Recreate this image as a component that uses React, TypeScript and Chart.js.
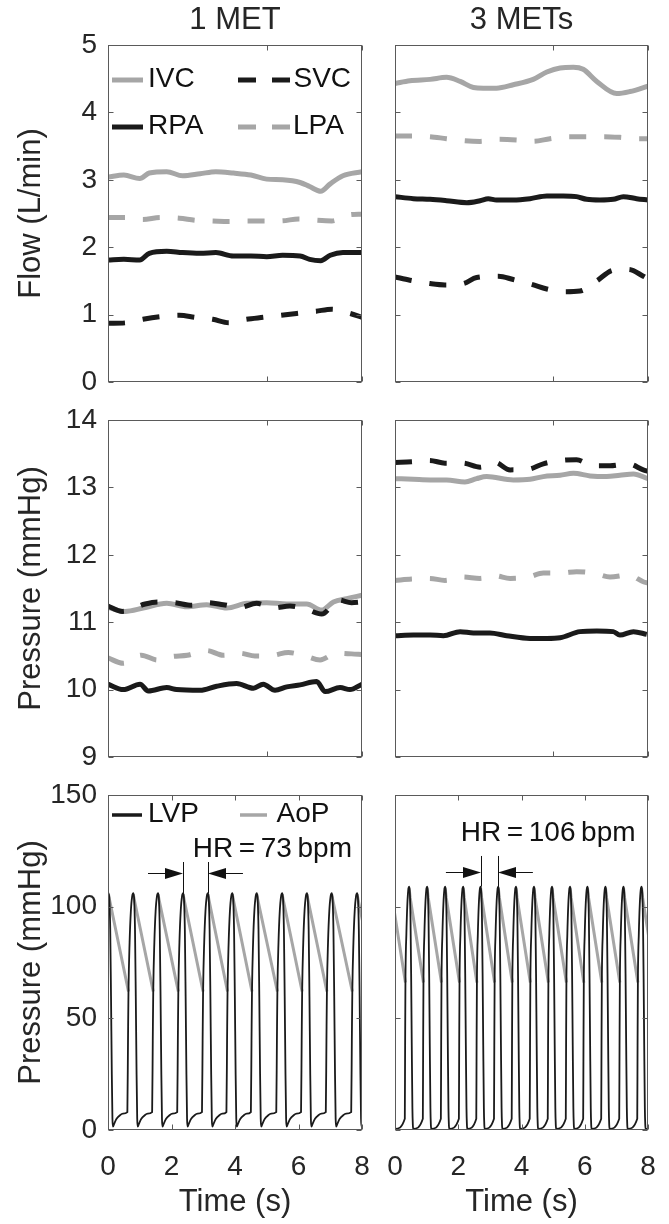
import React, { useEffect, useRef } from 'react';
import { Chart, registerables } from 'chart.js';

Chart.register(...registerables);

const FONT = "'Liberation Sans', Arial, Helvetica, sans-serif";
const GRAY = '#a6a6a6';
const BLACK = '#1a1a1a';
const TEXT = '#262626';
const INK = '#111111';
const FRAME = '#5a5a5a';

Chart.defaults.font.family = FONT;
Chart.defaults.color = TEXT;

// ---------- labels & ticks ----------
const COLUMN_TITLES = ['1 MET', '3 METs'];
const ROW_Y_TITLES = ['Flow (L/min)', 'Pressure (mmHg)', 'Pressure (mmHg)'];
const X_TITLE = 'Time (s)';
const X_TICKS_UPPER = [0, 5, 8];
const X_TICKS_BOTTOM = [0, 2, 4, 6, 8];
const FLOW_TICKS = [0, 1, 2, 3, 4, 5];
const VENOUS_P_TICKS = [9, 10, 11, 12, 13, 14];
const LV_P_TICKS = [0, 50, 100, 150];
const HR_LABELS = ['HR\u2009=\u200973\u2009bpm', 'HR\u2009=\u2009106\u2009bpm'];

// ---------- Flow, 1 MET ----------
const IVC_F1_T = [0, 0.5, 1.0, 1.3, 1.85, 2.35, 2.9, 3.4, 3.95, 4.5, 5.0, 5.5, 6.05, 6.35, 6.7, 7.0, 7.4, 8.0];
const IVC_F1 = [3.04, 3.07, 3.02, 3.10, 3.12, 3.06, 3.09, 3.12, 3.10, 3.07, 3.01, 3.00, 2.96, 2.90, 2.83, 2.94, 3.06, 3.12];
const RPA_F1_T = [0, 0.5, 1.0, 1.3, 1.85, 2.35, 2.9, 3.4, 3.95, 4.5, 5.0, 5.5, 6.05, 6.35, 6.7, 7.0, 7.4, 8.0];
const RPA_F1 = [1.81, 1.82, 1.81, 1.91, 1.94, 1.92, 1.91, 1.92, 1.87, 1.87, 1.86, 1.88, 1.87, 1.82, 1.80, 1.88, 1.92, 1.92];
const LPA_F1_T = [0, 0.6, 1.1, 1.65, 2.25, 2.75, 3.3, 3.8, 4.35, 4.9, 5.45, 6.0, 6.55, 7.05, 7.6, 8.0];
const LPA_F1 = [2.44, 2.44, 2.41, 2.44, 2.43, 2.40, 2.39, 2.38, 2.39, 2.39, 2.39, 2.42, 2.40, 2.39, 2.48, 2.49];
const SVC_F1_T = [0, 0.6, 1.1, 1.65, 2.25, 2.75, 3.3, 3.8, 4.35, 4.9, 5.45, 6.0, 6.55, 7.05, 7.6, 8.0];
const SVC_F1 = [0.87, 0.88, 0.93, 0.97, 0.99, 0.96, 0.93, 0.88, 0.93, 0.96, 0.99, 1.02, 1.05, 1.08, 1.02, 0.96];

// ---------- Flow, 3 METs ----------
const IVC_F3_T = [0, 0.47, 1.11, 1.63, 2.06, 2.48, 2.79, 3.21, 3.74, 4.37, 4.8, 5.22, 5.64, 5.95, 6.38, 7.01, 7.43, 8.0];
const IVC_F3 = [4.43, 4.47, 4.49, 4.52, 4.46, 4.37, 4.36, 4.36, 4.41, 4.49, 4.60, 4.66, 4.67, 4.64, 4.46, 4.28, 4.31, 4.39];
const RPA_F3_T = [0, 0.58, 1.11, 1.63, 2.27, 2.69, 2.95, 3.21, 3.74, 4.27, 4.8, 5.32, 5.74, 6.06, 6.48, 6.9, 7.22, 7.64, 8.0];
const RPA_F3 = [2.75, 2.72, 2.71, 2.69, 2.66, 2.69, 2.72, 2.70, 2.70, 2.72, 2.76, 2.76, 2.75, 2.71, 2.70, 2.71, 2.75, 2.72, 2.70];
const LPA_F3_T = [0, 0.53, 1.11, 1.63, 2.21, 2.69, 3.27, 3.85, 4.37, 4.9, 5.48, 6.01, 6.59, 7.11, 7.64, 8.0];
const LPA_F3 = [3.65, 3.65, 3.64, 3.61, 3.58, 3.57, 3.60, 3.59, 3.57, 3.61, 3.64, 3.64, 3.64, 3.63, 3.61, 3.61];
const SVC_F3_T = [0, 0.47, 1.11, 1.58, 2.16, 2.58, 3.27, 3.74, 4.32, 4.8, 5.32, 5.85, 6.38, 6.9, 7.38, 7.85, 8.0];
const SVC_F3 = [1.56, 1.51, 1.46, 1.44, 1.46, 1.55, 1.57, 1.52, 1.45, 1.38, 1.34, 1.35, 1.50, 1.66, 1.67, 1.57, 1.53];

// ---------- Venous pressure, 1 MET ----------
const IVC_P1_T = [0, 0.54, 1.11, 1.85, 2.48, 3.11, 3.74, 4.37, 5.0, 5.63, 6.26, 6.73, 7.1, 7.52, 8.0];
const IVC_P1 = [11.22, 11.16, 11.21, 11.28, 11.23, 11.26, 11.21, 11.28, 11.29, 11.27, 11.27, 11.18, 11.30, 11.35, 11.40];
const SVC_P1_T = [0, 0.45, 1.17, 1.58, 2.11, 2.64, 3.11, 3.63, 4.16, 4.68, 5.21, 5.73, 6.26, 6.73, 7.25, 7.67, 8.0];
const SVC_P1 = [11.24, 11.16, 11.27, 11.30, 11.29, 11.25, 11.29, 11.26, 11.22, 11.28, 11.21, 11.24, 11.19, 11.12, 11.33, 11.29, 11.30];
const LPA_P1_T = [0, 0.48, 1.05, 1.55, 2.0, 2.5, 3.11, 3.63, 4.16, 4.63, 5.21, 5.68, 6.2, 6.68, 7.2, 7.67, 8.0];
const LPA_P1 = [10.47, 10.39, 10.51, 10.44, 10.49, 10.51, 10.58, 10.51, 10.54, 10.50, 10.51, 10.55, 10.50, 10.44, 10.54, 10.53, 10.52];
const RPA_P1_T = [0, 0.48, 1.01, 1.27, 1.85, 2.16, 2.9, 3.42, 4.05, 4.58, 4.89, 5.26, 5.63, 6.05, 6.57, 6.84, 7.31, 7.62, 8.0];
const RPA_P1 = [10.08, 10.0, 10.08, 9.98, 10.03, 10.0, 9.99, 10.05, 10.09, 10.02, 10.08, 9.99, 10.04, 10.07, 10.12, 9.97, 10.03, 10.0, 10.08];

// ---------- Venous pressure, 3 METs ----------
const SVC_P3_T = [0, 0.53, 1.09, 1.58, 2.14, 2.69, 3.16, 3.64, 4.22, 4.69, 5.27, 5.74, 6.27, 6.8, 7.38, 7.85, 8.0];
const SVC_P3 = [13.37, 13.38, 13.40, 13.36, 13.36, 13.30, 13.37, 13.26, 13.27, 13.35, 13.40, 13.41, 13.32, 13.32, 13.35, 13.26, 13.24];
const IVC_P3_T = [0, 0.58, 1.11, 1.63, 2.21, 2.58, 2.9, 3.74, 4.27, 4.69, 5.22, 5.64, 6.17, 6.69, 7.11, 7.54, 8.0];
const IVC_P3 = [13.13, 13.12, 13.11, 13.11, 13.08, 13.13, 13.16, 13.11, 13.12, 13.16, 13.18, 13.21, 13.17, 13.16, 13.18, 13.20, 13.13];
const LPA_P3_T = [0, 0.53, 1.09, 1.58, 2.14, 2.69, 3.16, 3.64, 4.22, 4.69, 5.27, 5.74, 6.27, 6.8, 7.38, 7.85, 8.0];
const LPA_P3 = [11.62, 11.64, 11.65, 11.62, 11.67, 11.65, 11.69, 11.65, 11.67, 11.73, 11.73, 11.75, 11.73, 11.67, 11.70, 11.60, 11.58];
const RPA_P3_T = [0, 0.58, 1.11, 1.53, 2.06, 2.48, 3.0, 3.53, 4.27, 4.8, 5.22, 5.85, 6.38, 6.9, 7.11, 7.54, 7.96];
const RPA_P3 = [10.80, 10.81, 10.81, 10.80, 10.86, 10.84, 10.84, 10.80, 10.76, 10.76, 10.77, 10.86, 10.87, 10.86, 10.81, 10.86, 10.82];

// ---------- LV / aortic pressure: beat peak times and one beat's shape (offsets from peak) ----------
// AoP beat: valve opening (min), hidden ejection (gap, under LVP), value just after peak
const PEAKS_1MET = [0.02, 0.80, 1.58, 2.37, 3.15, 3.92, 4.69, 5.49, 6.27, 7.05, 7.85, 8.63];
const LVP_BEAT_1MET_DT = [-0.19, -0.17, -0.155, -0.12, -0.08, -0.04, 0, 0.025, 0.05, 0.075, 0.1, 0.12, 0.135, 0.18, 0.25, 0.35, 0.45];
const LVP_BEAT_1MET_P = [8, 40, 62, 84, 98, 104.5, 106, 103, 90, 60, 25, 5, 1.5, 3, 5, 6.5, 7.3];
const AOP_BEAT_1MET_DT = [-0.155, -0.15, -0.005, 0.03];
const AOP_BEAT_1MET_P = [62, null, 105.5, 103];

const PEAKS_3MET = [-0.12, 0.45, 1.02, 1.59, 2.16, 2.71, 3.27, 3.83, 4.40, 4.97, 5.54, 6.09, 6.66, 7.23, 7.80, 8.37];
const LVP_BEAT_3MET_DT = [-0.14, -0.13, -0.12, -0.09, -0.06, -0.03, 0, 0.02, 0.04, 0.06, 0.08, 0.1, 0.115, 0.125];
const LVP_BEAT_3MET_P = [5, 38, 66, 88, 101, 107.5, 109, 106, 95, 70, 38, 10, 2, 0.5];
const AOP_BEAT_3MET_DT = [-0.12, -0.115, -0.005, 0.03];
const AOP_BEAT_3MET_P = [66, null, 108.5, 104];

// HR markers: the two marked beats (time s)
const HR_MARK_T_1MET = [2.37, 3.15];
const HR_MARK_T_3MET = [2.71, 3.27];

// ---------- helpers ----------
function pts(t: number[], v: number[]) {
  return t.map((x, i) => ({ x, y: v[i] }));
}
function beats(peaks: number[], dt: number[], p: (number | null)[]) {
  const out: { x: number; y: number | null }[] = [];
  peaks.forEach((pk) => dt.forEach((d, i) => out.push({ x: +(pk + d).toFixed(4), y: p[i] })));
  return out;
}

const DASH = [17, 18];
function venousSet(label: string, data: any[], color: string, dashed: boolean) {
  return {
    label,
    data,
    borderColor: color,
    borderWidth: 5,
    borderDash: dashed ? DASH : [],
    borderCapStyle: 'butt',
    borderJoinStyle: 'round',
    pointRadius: 0,
    cubicInterpolationMode: 'monotone',
    fill: false,
  };
}

const framePlugin = {
  id: 'matlabFrame',
  afterDatasetsDraw(chart: any) {
    const { ctx, chartArea: a, scales } = chart;
    const xs = scales.x;
    const ys = scales.y;
    const L = Math.round(a.left) + 0.5;
    const R = Math.round(a.right) - 0.5;
    const T = Math.round(a.top) + 0.5;
    const B = Math.round(a.bottom) - 0.5;
    const len = 5;
    ctx.save();
    ctx.strokeStyle = FRAME;
    ctx.lineWidth = 1;
    ctx.setLineDash([]);
    ctx.strokeRect(L, T, R - L, B - T);
    ctx.beginPath();
    ys.ticks.forEach((tk: any) => {
      const py = Math.round(ys.getPixelForValue(tk.value)) + 0.5;
      ctx.moveTo(L, py); ctx.lineTo(L + len, py);
      ctx.moveTo(R, py); ctx.lineTo(R - len, py);
    });
    xs.ticks.forEach((tk: any) => {
      const px = Math.round(xs.getPixelForValue(tk.value)) + 0.5;
      ctx.moveTo(px, T); ctx.lineTo(px, T + len);
      ctx.moveTo(px, B); ctx.lineTo(px, B - len);
    });
    ctx.stroke();
    ctx.restore();
  },
};

function legendPlugin(items: any[]) {
  return {
    id: 'matlabLegend',
    afterDatasetsDraw(chart: any) {
      const { ctx, chartArea: a } = chart;
      ctx.save();
      items.forEach((it) => {
        const y = a.top + it.dy;
        ctx.beginPath();
        ctx.setLineDash(it.dash);
        ctx.strokeStyle = it.color;
        ctx.lineWidth = it.width;
        ctx.lineCap = 'butt';
        ctx.moveTo(a.left + it.x0, y);
        ctx.lineTo(a.left + it.x1, y);
        ctx.stroke();
        ctx.setLineDash([]);
        ctx.fillStyle = INK;
        ctx.font = `28px ${FONT}`;
        ctx.textBaseline = 'middle';
        ctx.textAlign = 'left';
        ctx.fillText(it.label, a.left + it.tx, y - 1);
      });
      ctx.restore();
    },
  };
}

function hrPlugin(spec: any) {
  return {
    id: 'hrMarker',
    afterDatasetsDraw(chart: any) {
      const { ctx, scales } = chart;
      const xs = scales.x;
      const ys = scales.y;
      ctx.save();
      ctx.fillStyle = INK;
      ctx.strokeStyle = INK;
      ctx.lineWidth = 1;
      ctx.font = `28px ${FONT}`;
      ctx.textBaseline = 'middle';
      ctx.textAlign = 'left';
      ctx.fillText(spec.text, xs.getPixelForValue(spec.textT), ys.getPixelForValue(spec.textP));
      const xm = spec.marks.map((t: number) => Math.round(xs.getPixelForValue(t)) + 0.5);
      xm.forEach((px: number) => {
        ctx.beginPath();
        ctx.moveTo(px, ys.getPixelForValue(spec.markTopP));
        ctx.lineTo(px, ys.getPixelForValue(spec.markBottomP));
        ctx.stroke();
      });
      const ay = Math.round(ys.getPixelForValue(spec.arrowP)) + 0.5;
      const arrow = (tail: number, tip: number) => {
        const dir = tip > tail ? 1 : -1;
        ctx.beginPath();
        ctx.moveTo(tail, ay);
        ctx.lineTo(tip - dir * 10, ay);
        ctx.stroke();
        ctx.beginPath();
        ctx.moveTo(tip, ay);
        ctx.lineTo(tip - dir * 18, ay - 5.5);
        ctx.lineTo(tip - dir * 18, ay + 5.5);
        ctx.closePath();
        ctx.fill();
      };
      arrow(xs.getPixelForValue(spec.leftTailT), xm[0] - 0.5);
      arrow(xs.getPixelForValue(spec.rightTailT), xm[1] - 0.5);
      ctx.restore();
    },
  };
}

// ---------- layout ----------
const COLS = [
  { x: 0, w: 380, padL: 0, yAxisW: 108, padR: 18 },
  { x: 380, w: 289, padL: 15, yAxisW: 0, padR: 21 },
];
const ROWS = [
  { y: 0, h: 401, padT: 0, padB: 19, xAxisH: 0 },
  { y: 401, h: 375, padT: 19, padB: 19, xAxisH: 0 },
  { y: 776, h: 448, padT: 19, padB: 0, xAxisH: 94 },
];

const Y_SETUPS = [
  { min: 0, max: 5, ticks: FLOW_TICKS },
  { min: 9, max: 14, ticks: VENOUS_P_TICKS },
  { min: 0, max: 150, ticks: LV_P_TICKS },
];

function buildConfig(row: number, col: number, datasets: any[], extra: any[]) {
  const C = COLS[col];
  const R = ROWS[row];
  const Y = Y_SETUPS[row];
  const isLeft = col === 0;
  const isBottom = row === 2;
  return {
    type: 'line',
    data: { datasets },
    options: {
      animation: false,
      responsive: false,
      maintainAspectRatio: false,
      devicePixelRatio: 1,
      events: [],
      spanGaps: false,
      layout: { padding: { left: C.padL, right: C.padR, top: R.padT, bottom: R.padB } },
      plugins: {
        legend: { display: false },
        tooltip: { enabled: false },
        title:
          row === 0
            ? {
                display: true,
                text: COLUMN_TITLES[col],
                fullSize: false,
                color: TEXT,
                font: { size: 31, weight: 'normal', family: FONT },
                padding: { top: 1.4, bottom: 6.4 },
              }
            : { display: false },
      },
      scales: {
        x: {
          type: 'linear',
          min: 0,
          max: 8,
          grid: { display: false, drawTicks: false },
          border: { display: false },
          afterBuildTicks: (sc: any) => {
            sc.ticks = (isBottom ? X_TICKS_BOTTOM : X_TICKS_UPPER).map((v) => ({ value: v }));
          },
          afterFit: (sc: any) => {
            sc.height = R.xAxisH;
            sc.paddingLeft = 0;
            sc.paddingRight = 0;
          },
          ticks: {
            display: isBottom,
            padding: 20,
            color: TEXT,
            font: { size: 28, family: FONT },
            maxRotation: 0,
            minRotation: 0,
            autoSkip: false,
          },
          title: {
            display: isBottom,
            text: X_TITLE,
            color: TEXT,
            font: { size: 31, family: FONT },
            padding: { top: 0, bottom: 3 },
          },
        },
        y: {
          type: 'linear',
          min: Y.min,
          max: Y.max,
          grid: { display: false, drawTicks: false },
          border: { display: false },
          afterBuildTicks: (sc: any) => {
            sc.ticks = Y.ticks.map((v) => ({ value: v }));
          },
          afterFit: (sc: any) => {
            sc.width = C.yAxisW;
            sc.paddingTop = 0;
            sc.paddingBottom = 0;
          },
          ticks: {
            display: isLeft,
            padding: 11,
            color: TEXT,
            font: { size: 28, family: FONT },
          },
          title: {
            display: isLeft,
            text: ROW_Y_TITLES[row],
            color: TEXT,
            font: { size: 31, family: FONT },
            padding: { top: 13, bottom: 0 },
          },
        },
      },
    },
    plugins: [framePlugin, ...extra],
  };
}

const FLOW_LEGEND = [
  { label: 'IVC', color: GRAY, dash: [], width: 5, dy: 35, x0: 4, x1: 35, tx: 40 },
  { label: 'SVC', color: BLACK, dash: [18, 16], width: 5, dy: 35, x0: 130, x1: 182, tx: 185.5 },
  { label: 'RPA', color: BLACK, dash: [], width: 5, dy: 82, x0: 4, x1: 35, tx: 40 },
  { label: 'LPA', color: GRAY, dash: [18, 16], width: 5, dy: 82, x0: 130, x1: 182, tx: 185 },
];
const LV_LEGEND = [
  { label: 'LVP', color: BLACK, dash: [], width: 3.5, dy: 20, x0: 4, x1: 34, tx: 40 },
  { label: 'AoP', color: GRAY, dash: [], width: 3.5, dy: 20, x0: 132, x1: 159, tx: 168.5 },
];

function lvSets(peaks: number[], lvDt: number[], lvP: number[], aoDt: number[], aoP: (number | null)[]) {
  return [
    {
      label: 'LVP',
      data: beats(peaks, lvDt, lvP),
      borderColor: BLACK,
      borderWidth: 1.8,
      pointRadius: 0,
      cubicInterpolationMode: 'monotone',
      borderJoinStyle: 'round',
      fill: false,
    },
    {
      label: 'AoP',
      data: beats(peaks, aoDt, aoP),
      borderColor: GRAY,
      borderWidth: 3,
      pointRadius: 0,
      tension: 0,
      spanGaps: false,
      borderCapStyle: 'butt',
      borderJoinStyle: 'miter',
      fill: false,
    },
  ];
}

const PANELS = [
  {
    row: 0, col: 0,
    datasets: [
      venousSet('SVC', pts(SVC_F1_T, SVC_F1), BLACK, true),
      venousSet('IVC', pts(IVC_F1_T, IVC_F1), GRAY, false),
      venousSet('RPA', pts(RPA_F1_T, RPA_F1), BLACK, false),
      venousSet('LPA', pts(LPA_F1_T, LPA_F1), GRAY, true),
    ],
    extra: [legendPlugin(FLOW_LEGEND)],
  },
  {
    row: 0, col: 1,
    datasets: [
      venousSet('SVC', pts(SVC_F3_T, SVC_F3), BLACK, true),
      venousSet('IVC', pts(IVC_F3_T, IVC_F3), GRAY, false),
      venousSet('RPA', pts(RPA_F3_T, RPA_F3), BLACK, false),
      venousSet('LPA', pts(LPA_F3_T, LPA_F3), GRAY, true),
    ],
    extra: [],
  },
  {
    row: 1, col: 0,
    datasets: [
      venousSet('SVC', pts(SVC_P1_T, SVC_P1), BLACK, true),
      venousSet('IVC', pts(IVC_P1_T, IVC_P1), GRAY, false),
      venousSet('RPA', pts(RPA_P1_T, RPA_P1), BLACK, false),
      venousSet('LPA', pts(LPA_P1_T, LPA_P1), GRAY, true),
    ],
    extra: [],
  },
  {
    row: 1, col: 1,
    datasets: [
      venousSet('SVC', pts(SVC_P3_T, SVC_P3), BLACK, true),
      venousSet('IVC', pts(IVC_P3_T, IVC_P3), GRAY, false),
      venousSet('RPA', pts(RPA_P3_T, RPA_P3), BLACK, false),
      venousSet('LPA', pts(LPA_P3_T, LPA_P3), GRAY, true),
    ],
    extra: [],
  },
  {
    row: 2, col: 0,
    datasets: lvSets(PEAKS_1MET, LVP_BEAT_1MET_DT, LVP_BEAT_1MET_P, AOP_BEAT_1MET_DT, AOP_BEAT_1MET_P),
    extra: [
      legendPlugin(LV_LEGEND),
      hrPlugin({
        text: HR_LABELS[0], textT: 2.67, textP: 125.5,
        marks: HR_MARK_T_1MET, markTopP: 120, markBottomP: 106,
        arrowP: 115, leftTailT: 1.26, rightTailT: 4.25,
      }),
    ],
  },
  {
    row: 2, col: 1,
    datasets: lvSets(PEAKS_3MET, LVP_BEAT_3MET_DT, LVP_BEAT_3MET_P, AOP_BEAT_3MET_DT, AOP_BEAT_3MET_P),
    extra: [
      hrPlugin({
        text: HR_LABELS[1], textT: 2.08, textP: 133,
        marks: HR_MARK_T_3MET, markTopP: 122.7, markBottomP: 109,
        arrowP: 115.5, leftTailT: 1.61, rightTailT: 4.36,
      }),
    ],
  },
];

function Panel({ p }: { p: any }) {
  const ref = useRef<HTMLCanvasElement | null>(null);
  const C = COLS[p.col];
  const R = ROWS[p.row];
  useEffect(() => {
    if (!ref.current) return;
    const chart = new Chart(ref.current, buildConfig(p.row, p.col, p.datasets, p.extra) as any);
    return () => chart.destroy();
  }, []);
  return (
    <canvas
      ref={ref}
      width={C.w}
      height={R.h}
      style={{ position: 'absolute', left: C.x, top: R.y, width: C.w, height: R.h, display: 'block' }}
    />
  );
}

export default function App() {
  return (
    <div
      style={{
        position: 'absolute',
        left: 0,
        top: 0,
        width: 669,
        height: 1224,
        background: '#ffffff',
        overflow: 'hidden',
      }}
    >
      {PANELS.map((p, i) => (
        <Panel key={i} p={p} />
      ))}
    </div>
  );
}
